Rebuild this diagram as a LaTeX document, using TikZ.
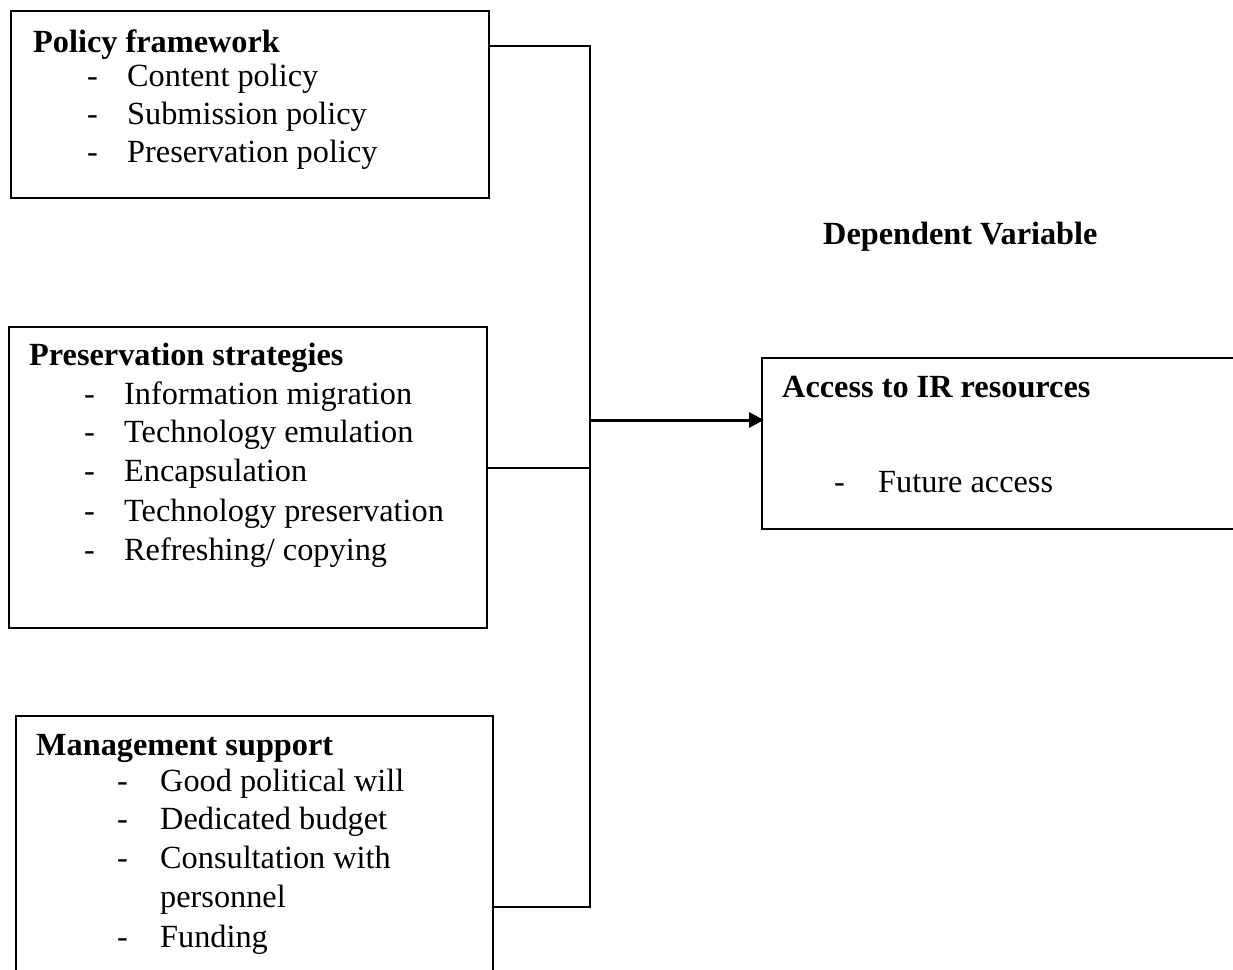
\documentclass[tikz,border=0pt]{standalone}
\usepackage{fontspec}
\setmainfont{Liberation Serif}
\usetikzlibrary{arrows.meta}
\begin{document}
\begin{tikzpicture}[x=1pt,y=-1pt,
  box/.style={draw,line width=2pt,inner sep=0pt,anchor=north west},
  txt/.style={inner sep=0pt,anchor=base west,font=\fontsize{32.3}{38}\selectfont},
  ttl/.style={txt,font=\fontsize{32.3}{38}\selectfont\bfseries},
  conn/.style={line width=1.4pt},
  arr/.style={line width=3pt,-{Triangle[length=15pt,width=15pt]}}]
\useasboundingbox (0,0) rectangle (1233,969);
% boxes
\node[box,minimum width=478pt,minimum height=187pt] (pol) at (10,10) {};
\node[box,minimum width=478pt,minimum height=301pt] (ps) at (8,326) {};
\node[box,minimum width=477pt,minimum height=300pt] (mg) at (15,715) {};
\node[box,minimum width=520pt,minimum height=171pt] (acc) at (761,357) {};
% policy framework
\node[ttl] (t1) at (33,52) {Policy framework};
\node[txt] (d11) at (87,86) {-};
\node[txt] (i11) at (127,86) {Content policy};
\node[txt] (d12) at (87,124) {-};
\node[txt] (i12) at (127,124) {Submission policy};
\node[txt] (d13) at (87,162) {-};
\node[txt] (i13) at (127,162) {Preservation policy};
% preservation strategies
\node[ttl] (t2) at (29,365) {Preservation strategies};
\node[txt] (d21) at (84,404) {-};
\node[txt] (i21) at (124,404) {Information migration};
\node[txt] (d22) at (84,442) {-};
\node[txt] (i22) at (124,442) {Technology emulation};
\node[txt] (d23) at (84,481) {-};
\node[txt] (i23) at (124,481) {Encapsulation};
\node[txt] (d24) at (84,521) {-};
\node[txt] (i24) at (124,521) {Technology preservation};
\node[txt] (d25) at (84,560) {-};
\node[txt] (i25) at (124,560) {Refreshing/ copying};
% management support
\node[ttl] (t3) at (36,755) {Management support};
\node[txt] (d31) at (117,791) {-};
\node[txt] (i31) at (160,791) {Good political will};
\node[txt] (d32) at (117,829) {-};
\node[txt] (i32) at (160,829) {Dedicated budget};
\node[txt] (d33) at (117,868) {-};
\node[txt] (i33) at (160,868) {Consultation with};
\node[txt] (i34) at (160,907) {personnel};
\node[txt] (d35) at (117,947) {-};
\node[txt] (i35) at (160,947) {Funding};
% dependent
\node[ttl] (dv) at (823,244) {Dependent Variable};
\node[ttl] (t4) at (782,397) {Access to IR resources};
\node[txt] (d41) at (834,492) {-};
\node[txt] (i41) at (878,492) {Future access};
% connectors
\coordinate (jt) at (590,46);
\coordinate (jm) at (590,468);
\coordinate (ja) at (590,420);
\coordinate (jb) at (590,907);
\draw[conn] (jt -| pol.east) -- (jt) -- (jb) -- (jb -| mg.east);
\draw[conn] (jm -| ps.east) -- (jm);
\draw[arr] (ja) -- ([xshift=3pt]ja -| acc.west);
\end{tikzpicture}
\end{document}
